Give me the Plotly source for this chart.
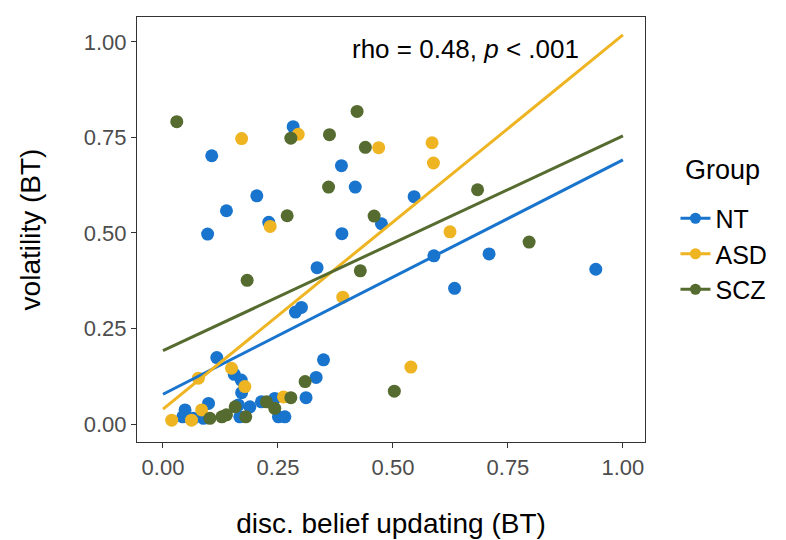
import plotly.graph_objects as go

# Per-group observations: discounted belief updating (x) vs. volatility (y)
nt_x = [0.283, 0.106, 0.388, 0.418, 0.204, 0.546, 0.138, 0.230, 0.475, 0.097,
        0.389, 0.589, 0.709, 0.335, 0.941, 0.634, 0.301, 0.288, 0.117, 0.349,
        0.155, 0.333, 0.170, 0.171, 0.099, 0.164, 0.189, 0.214, 0.243, 0.311,
        0.048, 0.043, 0.066, 0.088, 0.167, 0.251, 0.265]
nt_y = [0.778, 0.702, 0.676, 0.620, 0.597, 0.595, 0.558, 0.528, 0.524, 0.497,
        0.498, 0.440, 0.445, 0.409, 0.405, 0.355, 0.305, 0.293, 0.174, 0.168,
        0.130, 0.122, 0.115, 0.082, 0.054, 0.050, 0.045, 0.058, 0.067, 0.069,
        0.037, 0.019, 0.015, 0.015, 0.019, 0.019, 0.019]

asd_x = [0.171, 0.294, 0.469, 0.585, 0.588, 0.233, 0.624, 0.391, 0.539, 0.149,
         0.178, 0.077, 0.084, 0.019, 0.262, 0.062]
asd_y = [0.747, 0.758, 0.723, 0.736, 0.683, 0.517, 0.503, 0.332, 0.149, 0.146,
         0.098, 0.120, 0.037, 0.010, 0.071, 0.010]

scz_x = [0.030, 0.278, 0.362, 0.422, 0.440, 0.360, 0.684, 0.270, 0.459, 0.796,
         0.429, 0.183, 0.503, 0.309, 0.278, 0.225, 0.243, 0.157, 0.180, 0.138,
         0.128, 0.102]
scz_y = [0.791, 0.748, 0.757, 0.818, 0.724, 0.620, 0.613, 0.545, 0.544, 0.476,
         0.401, 0.376, 0.086, 0.111, 0.069, 0.058, 0.041, 0.045, 0.019, 0.024,
         0.019, 0.015]

# Linear fits (intercept, slope) per group, drawn over the full x range
groups = ["NT", "ASD", "SCZ"]
fit_intercept = [0.078, 0.039, 0.192]
fit_slope = [0.613, 0.979, 0.562]
fit_range = [0.0, 1.0]

colors = ["#1874CD", "#EEB422", "#556B2F"]
xs = [nt_x, asd_x, scz_x]
ys = [nt_y, asd_y, scz_y]

x_ticks = [0.0, 0.25, 0.5, 0.75, 1.0]
y_ticks = [0.0, 0.25, 0.5, 0.75, 1.0]
tick_text = ["0.00", "0.25", "0.50", "0.75", "1.00"]

font_family = "Liberation Sans, Arial, sans-serif"

fig = go.Figure()

for g, c, x, y in zip(groups, colors, xs, ys):
    fig.add_trace(go.Scatter(
        x=x, y=y, mode="markers", name=g, legendgroup=g, showlegend=False,
        marker=dict(color=c, size=13, line=dict(width=0)),
    ))

for g, c, b0, b1 in zip(groups, colors, fit_intercept, fit_slope):
    fig.add_trace(go.Scatter(
        x=fit_range, y=[b0 + b1 * v for v in fit_range], mode="lines",
        name=g, legendgroup=g, showlegend=False,
        line=dict(color=c, width=3),
    ))

# Legend keys: line with a point, as in the group key
for g, c in zip(groups, colors):
    fig.add_trace(go.Scatter(
        x=[None], y=[None], mode="lines+markers", name=g, legendgroup=g,
        line=dict(color=c, width=3), marker=dict(color=c, size=11),
    ))

fig.add_annotation(
    x=0.657, y=0.98, xref="x", yref="y", showarrow=False,
    text="rho = 0.48, <i>p</i> < .001",
    font=dict(family=font_family, size=26, color="black"),
)

# Legend heading
fig.add_annotation(
    x=1.075, y=0.64, xref="paper", yref="paper", xanchor="left", yanchor="middle",
    showarrow=False, text="Group",
    font=dict(family=font_family, size=27, color="black"),
)

axis_common = dict(
    showgrid=False, zeroline=False, showline=True, mirror=True,
    linecolor="#333333", linewidth=1.2, automargin=False,
    ticks="outside", ticklen=5, tickwidth=1.2, tickcolor="#333333",
    tickfont=dict(family=font_family, size=22, color="#4D4D4D"),
    tickvals=x_ticks, ticktext=tick_text,
)

fig.update_xaxes(
    **axis_common, range=[-0.0565, 1.048],
    title=dict(text="disc. belief updating (BT)", standoff=34,
               font=dict(family=font_family, size=28, color="black")),
)
fig.update_yaxes(
    **{**axis_common, "tickvals": y_ticks}, range=[-0.047, 1.065],
    title=dict(text="volatility (BT)", standoff=34,
               font=dict(family=font_family, size=28, color="black")),
)

fig.update_layout(
    width=786, height=540,
    margin=dict(l=137, r=141, t=17, b=98),
    plot_bgcolor="white", paper_bgcolor="white",
    font=dict(family=font_family),
    legend=dict(
        x=1.06, y=0.58, xanchor="left", yanchor="top",
        font=dict(family=font_family, size=25, color="black"),
        itemwidth=30, tracegroupgap=0,
        bgcolor="rgba(0,0,0,0)",
    ),
)

fig.write_html("out.html")
